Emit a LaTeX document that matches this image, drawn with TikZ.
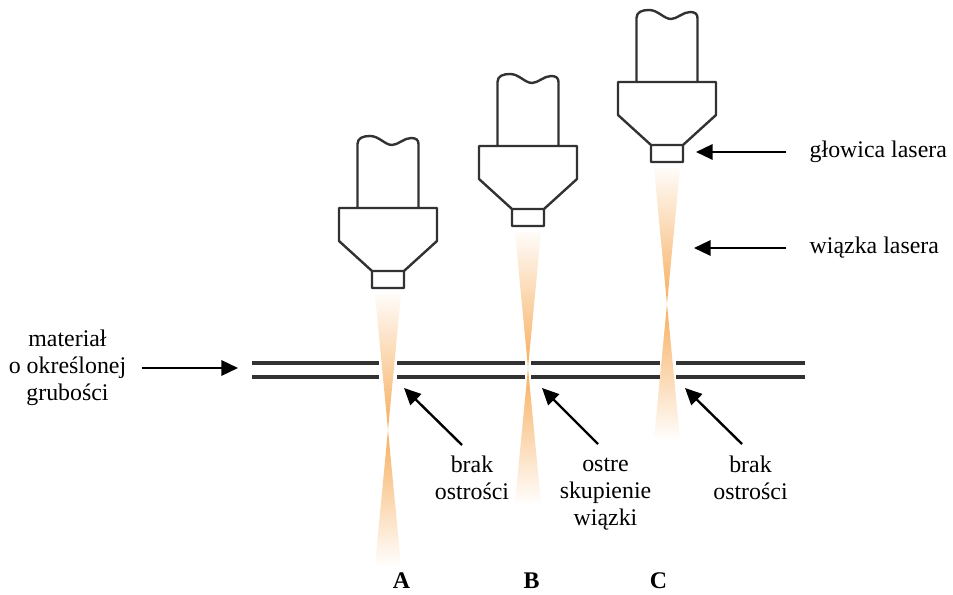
\documentclass[tikz,border=0pt]{standalone}
\usepackage{fontspec}
\setmainfont{Liberation Serif}
\usetikzlibrary{arrows.meta}

\definecolor{beamorange}{RGB}{247,174,94}
\definecolor{edge}{RGB}{50,50,50}

\begin{document}
\begin{tikzpicture}[
	x=0.75pt, y=-0.75pt,
	every node/.style = {font=\fontsize{17.9pt}{20.3pt}\selectfont},
	lbl/.style = {align=center},
	letter/.style = {font=\fontsize{17.9pt}{20.3pt}\selectfont\bfseries},
	arr/.style = {line width=1.8pt, -{Triangle[length=12.5pt,width=11.5pt]}},
	sheet/.style = {draw=edge, line width=2.6pt},
	% head drawn upwards from the bottom of its nozzle
	laserhead/.pic = {
		\draw[edge, line width=1.8pt, line join=round]
			(-16,0) rectangle (16,-17)
			(-16,-17) -- (-49,-47) -- (-49,-80) -- (49,-80) -- (49,-47) -- (16,-17)
			(-30.5,-80) -- (-30.5,-144)
				.. controls (-30.5,-150) and (-25,-152) .. (-18,-152)
				.. controls (-9,-152) and (-3,-143) .. (4,-143)
				.. controls (10,-143) and (16,-150) .. (23,-150)
				.. controls (28,-150) and (30.5,-148) .. (30.5,-144)
				-- (30.5,-80);
	},
	% beam below the nozzle, focus 142 down
	beam/.pic = {
		\shade[top color=beamorange!4, middle color=beamorange!65, bottom color=beamorange]
			(-13,6) -- (13,6) -- (0,142) -- cycle;
		\shade[top color=beamorange, middle color=beamorange!65, bottom color=beamorange!2]
			(0,142) -- (13,277) -- (-13,277) -- cycle;
	}
]
\useasboundingbox (0,0) rectangle (953,595);

% beams
\pic (beamA) at (388,288) {beam};
\pic (beamB) at (528,226) {beam};
\pic (beamC) at (667,162) {beam};

% heads
\pic (headA) at (388,288) {laserhead};
\pic (headB) at (528,226) {laserhead};
\pic (headC) at (667,162) {laserhead};

% material sheet, cut where the beams pass
\foreach \y in {363,377} {
	\draw[sheet] (252,\y) -- (379,\y);
	\draw[sheet] (397,\y) -- (525,\y);
	\draw[sheet] (531,\y) -- (660,\y);
	\draw[sheet] (676,\y) -- (805,\y);
}

% labels on the right
\coordinate (nozC) at (696,152);
\coordinate (rayC) at (694,248);
\node[anchor=west] (glowica) at (805,152) {głowica lasera};
\node[anchor=west] (wiazka) at (805,248) {wiązka lasera};
\draw[arr, shorten <=14pt] (glowica) -- (nozC);
\draw[arr, shorten <=14pt] (wiazka) -- (rayC);

% label on the left
\node[lbl] (material) at (67.5,368) {materiał\\o określonej\\grubości};
\coordinate (sheetL) at (238,368);
\draw[arr, shorten <=8pt] (material) -- (sheetL);

% focus labels
\node[lbl, anchor=north] (brakA) at (472,451) {brak\\ostrości};
\node[lbl, anchor=north] (ostre) at (605.5,453) {ostre\\skupienie\\wiązki};
\node[lbl, anchor=north] (brakC) at (750.5,451) {brak\\ostrości};
\coordinate (fromA) at (462,445);
\coordinate (toA) at (404,388);
\coordinate (fromB) at (598,444);
\coordinate (toB) at (542,388);
\coordinate (fromC) at (742,444);
\coordinate (toC) at (685,388);
\draw[arr] (fromA) -- (toA);
\draw[arr] (fromB) -- (toB);
\draw[arr] (fromC) -- (toC);

% case letters
\node[letter] (caseA) at (401.5,581) {A};
\node[letter] (caseB) at (531.5,581) {B};
\node[letter] (caseC) at (658.5,581) {C};
\end{tikzpicture}
\end{document}
